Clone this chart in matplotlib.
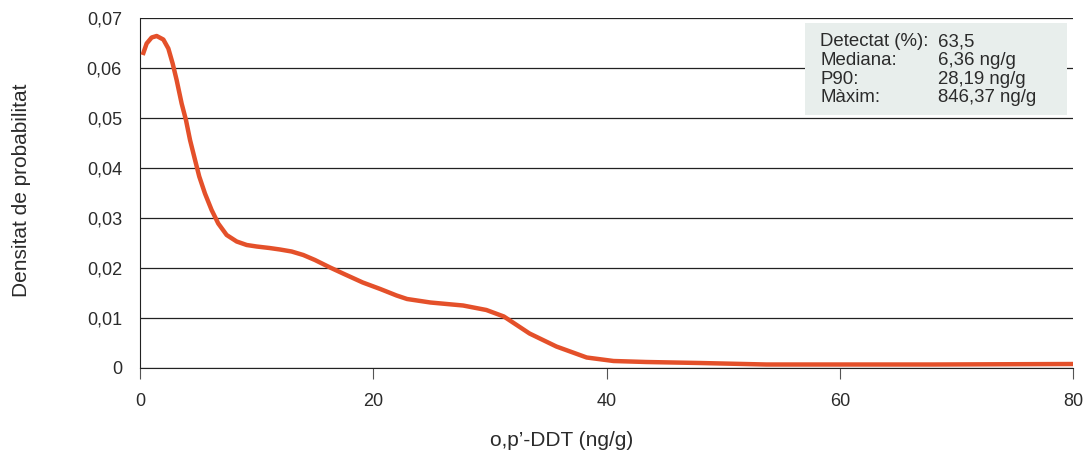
import matplotlib
matplotlib.use('Agg')
from matplotlib import pyplot as plt
from matplotlib.ticker import FuncFormatter

# density curve
xs = [0.23, 0.57, 1.0, 1.43, 2.0, 2.43, 2.8, 3.14, 3.57, 3.94, 4.29, 4.72, 5.08, 5.57, 6.14, 6.71,
      7.43, 8.29, 9.15, 10.0, 11.1, 12.0, 13.0, 14.0, 15.0, 16.3, 17.5, 19.1, 20.6, 22.0, 22.9, 24.9,
      27.7, 29.7, 31.2, 33.4, 35.7, 38.3, 40.6, 43.4, 45.7, 48.0, 53.7, 59.4, 68.0, 80.0]
ys = [0.0626, 0.0649, 0.0661, 0.0664, 0.0657, 0.0639, 0.0609, 0.0576, 0.0529, 0.0496, 0.0456, 0.0416,
      0.0383, 0.0349, 0.0316, 0.0289, 0.0266, 0.0253, 0.0246, 0.0243, 0.0240, 0.0237, 0.0233, 0.0226,
      0.0216, 0.0201, 0.0188, 0.0171, 0.0158, 0.0145, 0.0138, 0.0131, 0.0125, 0.0116, 0.0103, 0.0069,
      0.0043, 0.0021, 0.0014, 0.0012, 0.0011, 0.0010, 0.0007, 0.0007, 0.0007, 0.0008]

y_ticks = [0, 0.01, 0.02, 0.03, 0.04, 0.05, 0.06, 0.07]
x_ticks = [0, 20, 40, 60, 80]

stat_names = ['Detectat (%):', 'Mediana:', 'P90:', 'Màxim:']
stat_values = ['63,5', '6,36 ng/g', '28,19 ng/g', '846,37 ng/g']

plt.rcParams['font.family'] = ['Liberation Sans', 'DejaVu Sans']
txt = '#2b2b2b'

fig = plt.figure(figsize=(10.86, 4.59), dpi=100)
ax = fig.add_axes([140/1086, 1-368/459, 933/1086, 350/459])

ax.plot(xs, ys, color='#e4502a', lw=3.2, solid_joinstyle='round', solid_capstyle='butt', zorder=3)

ax.set_xlim(0, 80)
ax.set_ylim(0, 0.07)
ax.set_yticks(y_ticks)
ax.set_xticks(x_ticks)
ax.yaxis.set_major_formatter(FuncFormatter(lambda v, p: '0' if v == 0 else ('%.2f' % v).replace('.', ',')))
ax.grid(axis='y', color='#222222', lw=0.9)
ax.set_axisbelow(True)
for s in ['top', 'right']:
    ax.spines[s].set_visible(False)
ax.spines['left'].set_color('#222222')
ax.spines['bottom'].set_color('#222222')
ax.tick_params(axis='y', length=0, pad=13, labelsize=13, labelcolor=txt)
ax.tick_params(axis='x', length=8, color='#555555', pad=10, labelsize=13, labelcolor=txt)

fig.text(22/1086, 1-190/459, 'Densitat de probabilitat', rotation=90, ha='center', va='center',
         fontsize=15, color=txt)
fig.text(562/1086, 1-440/459, 'o,p\u2019-DDT (ng/g)', ha='center', va='center', fontsize=15, color=txt)

# info box
box = plt.Rectangle((805/1086, 1-115/459), 262/1086, 92/459, transform=fig.transFigure,
                    facecolor='#e8eeec', edgecolor='none', zorder=5)
fig.add_artist(box)
for i, (n, v) in enumerate(zip(stat_names, stat_values)):
    yy = 1 - (42 + i * 18.5) / 459
    fig.text(820/1086, yy, n, ha='left', va='center', fontsize=13.4, color=txt, zorder=6)
    fig.text(938/1086, yy, v, ha='left', va='center', fontsize=13.4, color=txt, zorder=6)

plt.savefig('out.png', dpi=100)
